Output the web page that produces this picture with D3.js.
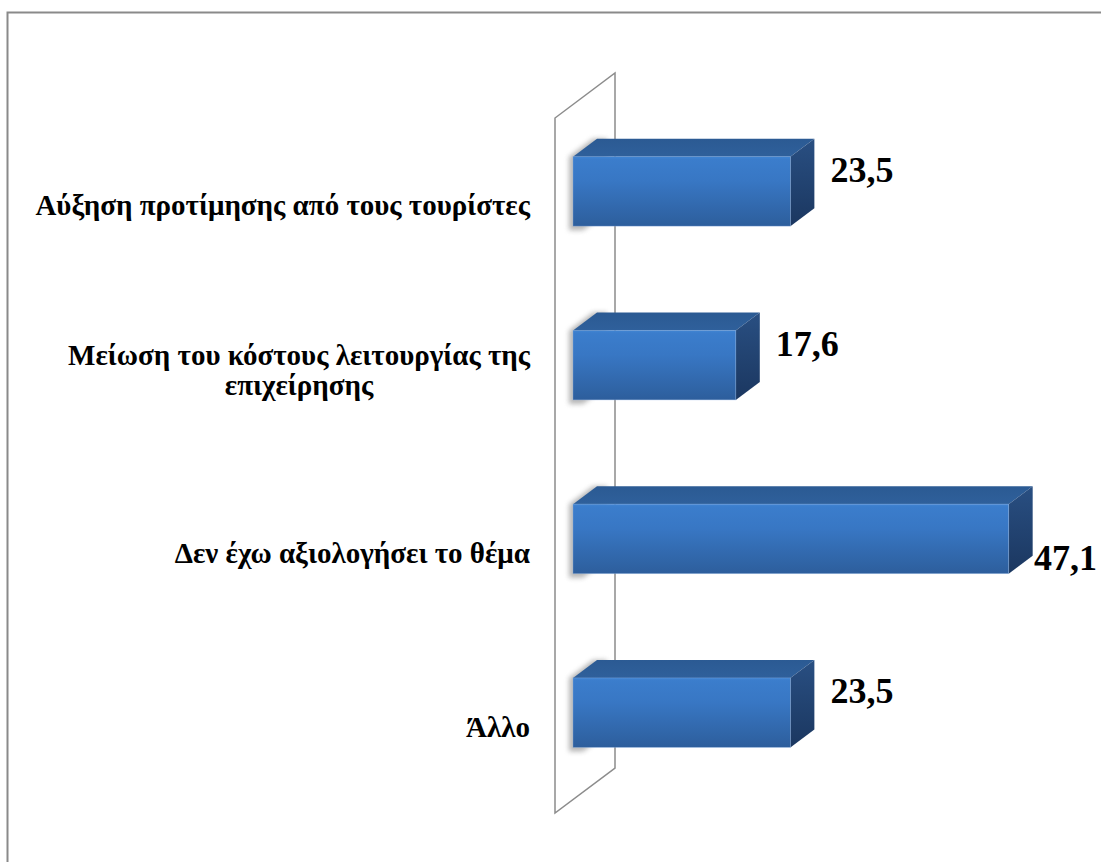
<!DOCTYPE html>
<html>
<head>
<meta charset="utf-8">
<script src="https://cdn.jsdelivr.net/npm/d3@7"></script>
<style>
  html, body { margin: 0; padding: 0; background: #fff; }
  svg { display: block; }
  .cat { font-family: "Liberation Serif", "Times New Roman", serif; font-weight: bold; font-size: 29px; fill: #000; }
  .val { font-family: "Liberation Serif", "Times New Roman", serif; font-weight: bold; font-size: 36px; fill: #000; }
</style>
</head>
<body>
<svg id="chart" width="1101" height="862"></svg>
<script>
// Survey answers (percent of respondents)
const categories = [
  "Αύξηση προτίμησης από τους τουρίστες",
  "Μείωση του κόστους λειτουργίας της επιχείρησης",
  "Δεν έχω αξιολογήσει το θέμα",
  "Άλλο"
];
const values = [23.5, 17.6, 47.1, 23.5];
const valueLabels = ["23,5", "17,6", "47,1", "23,5"];

const W = 1101, H = 862;
const svg = d3.select("#chart");

// oblique depth projection: full depth of the plot box
const depth = { dx: 60, dy: -45 };
const barDepth = [0.3, 0.7];          // bars sit in the middle of the depth

// front plane of the plot box
const plot = { left: 555, top: 118, bottom: 813 };

const x = d3.scaleLinear().domain([0, 50]).range([plot.left, plot.left + 462.5]);
const y = d3.scaleBand().domain(categories).range([plot.top, plot.bottom])
  .paddingInner(0.6).paddingOuter(0.3);

const defs = svg.append("defs");
const gFront = defs.append("linearGradient").attr("id", "gFront")
  .attr("x1", 0).attr("y1", 0).attr("x2", 0).attr("y2", 1);
[[0, "#4185d3"], [0.04, "#3b7dcc"], [0.35, "#3877c4"], [1, "#2d5e9c"]]
  .forEach(([o, c]) => gFront.append("stop").attr("offset", o).attr("stop-color", c));
const gTop = defs.append("linearGradient").attr("id", "gTop")
  .attr("x1", 0).attr("y1", 0).attr("x2", 0).attr("y2", 1);
[[0, "#2b5a93"], [1, "#2f609b"]]
  .forEach(([o, c]) => gTop.append("stop").attr("offset", o).attr("stop-color", c));
const gSide = defs.append("linearGradient").attr("id", "gSide")
  .attr("x1", 0).attr("y1", 0).attr("x2", 0).attr("y2", 1);
[[0, "#294f82"], [1, "#1b3760"]]
  .forEach(([o, c]) => gSide.append("stop").attr("offset", o).attr("stop-color", c));
defs.append("filter").attr("id", "soft").attr("x", "-50%").attr("y", "-50%")
  .attr("width", "200%").attr("height", "200%")
  .append("feGaussianBlur").attr("stdDeviation", 2.5);

// outer chart frame
svg.append("path")
  .attr("d", `M7.5,${H} V12.5 H${W}`)
  .attr("fill", "none").attr("stroke", "#8a8a8a").attr("stroke-width", 2);

// side wall at value 0
const wx0 = x(0);
svg.append("path")
  .attr("d", `M${wx0},${plot.bottom} V${plot.top} L${wx0 + depth.dx},${plot.top + depth.dy} V${plot.bottom + depth.dy} Z`)
  .attr("fill", "#fff").attr("stroke", "#8c8c8c").attr("stroke-width", 1.5);

const fdx = depth.dx * barDepth[0], fdy = depth.dy * barDepth[0];
const bdx = depth.dx * (barDepth[1] - barDepth[0]), bdy = depth.dy * (barDepth[1] - barDepth[0]);

const bars = svg.append("g").selectAll("g").data(categories).join("g")
  .attr("transform", `translate(${fdx},${fdy})`);

// soft shadow cast on the wall
bars.append("path")
  .attr("d", (d, i) => {
    const x0 = x(0) - 4, x1 = x(0) + 10, y0 = y(d), y1 = y(d) + y.bandwidth() + 4;
    return `M${x0},${y0} L${x0 + bdx},${y0 + bdy} H${x1 + bdx} V${y1 + bdy} L${x1},${y1} H${x0} Z`;
  })
  .attr("fill", "#7a7a7a").attr("opacity", 0.55).attr("filter", "url(#soft)");

// top face
bars.append("path")
  .attr("d", (d, i) => {
    const x0 = x(0), x1 = x(values[i]), y0 = y(d);
    return `M${x0},${y0} L${x0 + bdx},${y0 + bdy} L${x1 + bdx},${y0 + bdy} L${x1},${y0} Z`;
  })
  .attr("fill", "url(#gTop)");

// end face
bars.append("path")
  .attr("d", (d, i) => {
    const x1 = x(values[i]), y0 = y(d), y1 = y(d) + y.bandwidth();
    return `M${x1},${y0} L${x1 + bdx},${y0 + bdy} L${x1 + bdx},${y1 + bdy} L${x1},${y1} Z`;
  })
  .attr("fill", "url(#gSide)");

// front face
bars.append("rect")
  .attr("x", x(0)).attr("y", d => y(d))
  .attr("width", (d, i) => x(values[i]) - x(0))
  .attr("height", y.bandwidth())
  .attr("fill", "url(#gFront)")
  .attr("stroke", "rgba(140,175,225,0.45)").attr("stroke-width", 0.8);

// value labels beyond the bar end
bars.append("text").attr("class", "val")
  .text((d, i) => valueLabels[i])
  .each(function (d, i) {
    const t = d3.select(this);
    const w = this.getComputedTextLength();
    const cy = y(d) + y.bandwidth() / 2;
    let lx = x(values[i]) + bdx + 16;
    let ly = cy - 9.5;
    const maxX = W - 4 - w - fdx;
    if (lx > maxX) { lx = maxX; ly = cy + 31.5; }
    t.attr("x", lx).attr("y", ly);
  });

// category labels, right aligned against the wall, wrapped when too long
const labelRight = 530, maxLabelWidth = 510;
categories.forEach((cat, i) => {
  const g = svg.append("g");
  const probe = g.append("text").attr("class", "cat");
  const words = cat.split(" ");
  const lines = [];
  let line = [];
  words.forEach(wd => {
    line.push(wd);
    probe.text(line.join(" "));
    if (probe.node().getComputedTextLength() > maxLabelWidth && line.length > 1) {
      line.pop();
      lines.push(line.join(" "));
      line = [wd];
    }
  });
  lines.push(line.join(" "));
  probe.remove();

  const cy = y(cat) + y.bandwidth() / 2 + fdy;
  const lineH = 30;
  const texts = g.selectAll("text").data(lines).join("text").attr("class", "cat").text(l => l);
  const widths = texts.nodes().map(n => n.getComputedTextLength());
  const blockW = d3.max(widths);
  const base = lines.length === 1 ? cy + 24 : cy;
  texts
    .attr("text-anchor", lines.length === 1 ? "end" : "middle")
    .attr("x", lines.length === 1 ? labelRight : labelRight - blockW / 2)
    .attr("y", (l, j) => base + j * lineH);
});
</script>
</body>
</html>
